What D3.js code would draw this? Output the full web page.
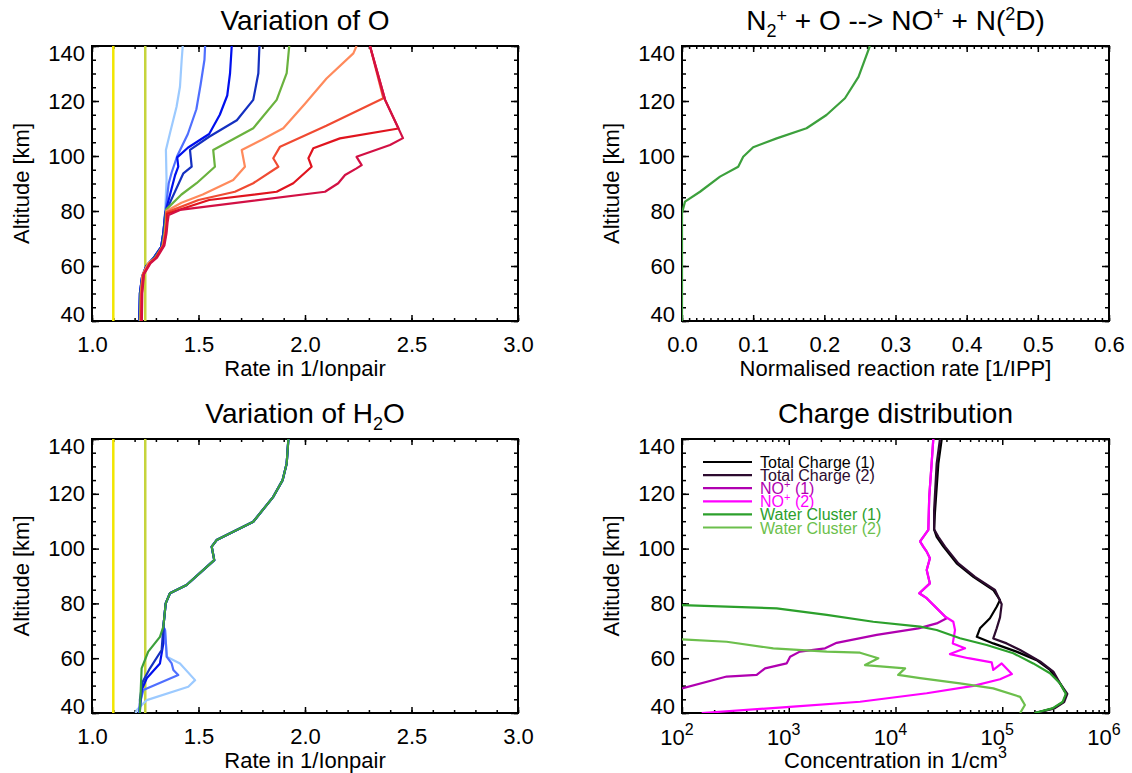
<!DOCTYPE html>
<html>
<head>
<meta charset="utf-8">
<script src="https://cdn.jsdelivr.net/npm/d3@7"></script>
<style>
body { margin: 0; background: #fff; }
svg { font-family: 'Liberation Sans', Arial, sans-serif; }
</style>
</head>
<body>
<script>
// ---- data: [value, altitude km] ----
let altTicks = [40, 60, 80, 100, 120, 140]
let refRates = [1.1, 1.25]
let refColors = ['#f2e600', '#c6d43c']

// Variation of O
let oLightBlue = [[1.222,40],[1.225,50],[1.235,56],[1.255,60],[1.29,63],[1.325,67],[1.335,72],[1.34,76],[1.343,79.2],[1.35,91.3],[1.347,102.2],[1.366,108.3],[1.397,117.9],[1.413,125.2],[1.421,134.9],[1.426,140]]
let oMidBlue = [[1.222,40],[1.225,50],[1.235,56],[1.255,60],[1.29,63],[1.325,67],[1.335,72],[1.34,76],[1.345,80],[1.36,90],[1.374,94],[1.40,100],[1.45,108],[1.49,117],[1.51,126],[1.528,135],[1.531,140]]
let oBlue = [[1.222,40],[1.225,50],[1.235,56],[1.255,60],[1.29,63],[1.325,67],[1.335,72],[1.34,76],[1.343,79],[1.39,93],[1.405,96.1],[1.40,99.5],[1.45,103],[1.55,108],[1.60,115],[1.635,122],[1.648,130],[1.656,140]]
let oNavy = [[1.222,40],[1.225,50],[1.235,56],[1.255,60],[1.29,63],[1.325,67],[1.335,72],[1.34,76],[1.345,79.5],[1.429,93.7],[1.468,96.1],[1.46,102.2],[1.55,107],[1.68,113],[1.757,120.4],[1.781,130.1],[1.786,140]]
let oGreen = [[1.225,40],[1.228,50],[1.237,56],[1.26,60.5],[1.295,63],[1.33,67],[1.34,72],[1.345,76],[1.348,80.5],[1.42,86],[1.491,90.1],[1.577,96.1],[1.569,102.2],[1.66,106],[1.757,110.1],[1.867,120.4],[1.914,130.1],[1.926,140]]
let oSalmon = [[1.228,40],[1.23,50],[1.238,57],[1.265,61],[1.30,63],[1.333,67.5],[1.343,72],[1.348,76],[1.35,80],[1.42,83],[1.52,86],[1.663,91.3],[1.718,96.1],[1.703,102.2],[1.80,106],[1.898,110.1],[2.0,119],[2.101,128.2],[2.227,137.3],[2.242,140]]
let oOrange = [[1.23,40],[1.232,50],[1.24,57],[1.27,61],[1.30,63],[1.335,67.5],[1.345,72],[1.35,76],[1.35,79.5],[1.50,84],[1.671,87],[1.757,90.1],[1.875,96.1],[1.851,99.2],[1.883,103.4],[2.10,111],[2.368,121],[2.305,140]]
let oRed = [[1.232,40],[1.234,50],[1.242,57],[1.272,61],[1.30,63],[1.337,67.5],[1.347,72],[1.352,76],[1.352,79],[1.55,84],[1.867,87],[1.945,90.1],[2.031,96.1],[2.016,99.2],[2.039,102.8],[2.164,106.4],[2.439,110],[2.376,120.4],[2.305,140]]
let oCrimson = [[1.234,40],[1.236,50],[1.244,57],[1.275,61],[1.305,63],[1.34,67.5],[1.35,72],[1.355,76],[1.36,78.5],[1.413,80.4],[2.094,87],[2.156,90.1],[2.188,93.1],[2.242,95.5],[2.266,96.7],[2.242,99.7],[2.399,104],[2.46,106.5],[2.376,120.4],[2.305,140]]
let oCurves = [oLightBlue, oMidBlue, oBlue, oNavy, oGreen, oSalmon, oOrange, oRed, oCrimson]
let oColors = ['#9ccaff', '#4f6fff', '#0010ee', '#1430c0', '#6ab23e', '#ff8a5c', '#f04a32', '#e0141e', '#d21044']

// N2+ + O reaction
let n2Rate = [[0,40],[0,60],[0,79.2],[0.0042,83.4],[0.0253,87],[0.0534,92.5],[0.079,96.1],[0.086,99.7],[0.100,103.2],[0.133,106.4],[0.175,110.1],[0.203,114.9],[0.229,121],[0.248,128.8],[0.264,140]]

// Variation of H2O
let hUpper = [[1.922,140],[1.914,131.1],[1.895,125],[1.851,118.9],[1.757,109.8],[1.585,103.1],[1.562,100.7],[1.574,95.8],[1.444,86.7],[1.366,83.7],[1.346,80],[1.335,71.5]]
let hLightBlue = [[1.343,70.3],[1.351,60.5],[1.413,58.1],[1.484,52],[1.452,49.6],[1.257,44.7],[1.21,41.1],[1.205,40]]
let hMidBlue = [[1.343,70.3],[1.351,60.5],[1.374,58.1],[1.382,55.7],[1.405,53.9],[1.241,48.4],[1.225,43.5],[1.22,40]]
let hBlue = [[1.335,65.4],[1.319,58.1],[1.257,52.7],[1.233,48.4],[1.225,41],[1.225,40]]
let hNavy = [[1.327,63],[1.272,56.3],[1.238,51.4],[1.225,45],[1.225,40]]
let hGreen = [[1.319,67.8],[1.264,62.4],[1.233,56.3],[1.225,41.1],[1.225,40]]
let hCurves = [hLightBlue, hMidBlue, hBlue, hNavy, hGreen]
let hColors = ['#9ccaff', '#4f6fff', '#0010ee', '#1430c0', '#3ca03c']

// Charge distribution [1/cm3, km]
let totalCharge1 = [[27100,140],[25200,131],[23400,113],[23000,107],[24300,104.3],[28100,100.7],[37400,94.6],[53600,89.7],[82400,84.9],[95300,81.2],[88700,78.8],[76700,74.6],[61900,70.9],[57700,67.8],[82400,65.4],[136000,62.4],[210000,59.3],[280000,55.7],[348000,50.8],[398000,47],[372000,44],[302000,41.7],[203000,40]]
let totalCharge2 = [[26100,140],[24300,131],[23000,114],[23000,107],[25200,104.3],[29100,100.7],[38800,94.6],[55600,89.7],[85500,84.9],[98800,79.7],[95300,74.9],[88700,70.9],[82400,67.2],[110000,65.4],[147000,63],[226000,58.8],[301000,55.1],[348000,50.8],[407000,47],[380000,44],[309000,41.7],[204000,40]]
let noPlus1 = [[100,49],[262,53.3],[501,53.9],[600,56.3],[955,58.1],[1030,60.5],[1270,62.4],[2190,63.6],[2810,65.6],[6670,68.5],[16400,70.9],[24300,72.7],[30200,74.6],[29100,75.2],[19600,81.9],[16700,83.7],[21000,87.3],[19600,92.2],[21000,96.5],[19600,98.9],[18200,100.7],[17000,102.6],[20300,106.8],[20700,118.9],[21800,131.1],[22600,140]]
let noPlus2 = [[22600,140],[21800,131.1],[20700,118.9],[20300,106.8],[17000,102.6],[18200,100.7],[19600,98.9],[21000,96.5],[19600,92.2],[21000,87.3],[16700,83.7],[19600,81.9],[29100,75.2],[34800,73.3],[36100,70.3],[34400,65.4],[44800,63.6],[32400,61.5],[48100,60],[79600,58.5],[82400,55.7],[98800,58.1],[123000,54.2],[95300,52.3],[53600,49.9],[19600,47.2],[4650,44.1],[1100,42.3],[153,40]]
let waterCluster1 = [[100,79.4],[771,78.2],[2270,75.8],[6190,73.3],[17000,71.5],[24300,70.3],[40200,67.3],[71400,64.8],[127000,61.8],[195000,58.1],[280000,54.5],[348000,50.8],[394000,47],[367000,44],[295000,41.7],[200000,40]]
let waterCluster2 = [[100,66.9],[262,66],[716,63.6],[2270,62.4],[4650,62],[6900,60],[5180,57.5],[12300,56.3],[10600,53.9],[17000,52.7],[40200,50.8],[82400,49],[147000,45.9],[163000,42.9],[147000,40]]
let chargeCurves = [totalCharge1, totalCharge2, noPlus1, noPlus2, waterCluster1, waterCluster2]
let chargeColors = ['#000000', '#2d0b2f', '#b000b0', '#ff00ff', '#2ca02c', '#6cbf4c']
let chargeNames = ['Total Charge (1)', 'Total Charge (2)', 'NO+ (1)', 'NO+ (2)', 'Water Cluster (1)', 'Water Cluster (2)']

// ---- layout ----
let svg = d3.select('body').append('svg')
            .attr('width', 1132)
            .attr('height', 773)

let panels = [
    {left: 92, right: 518, top: 46, bottom: 321},
    {left: 682, right: 1109, top: 46, bottom: 321},
    {left: 92, right: 518, top: 439, bottom: 713},
    {left: 682, right: 1109, top: 439, bottom: 713}
]

let tickFont = 22
let labelFont = 22
let titleFont = 28

let range = (a, b, s) => d3.range(a, b + s / 2, s).map(v => Math.round(v * 1000) / 1000)

let drawPanel = (i, x, xMajor, xMinor, xFmt) => {
    let p = panels[i]
    let y = d3.scaleLinear().domain([40, 140]).range([p.bottom, p.top])
    let g = svg.append('g')

    g.append('clipPath').attr('id', 'clip' + i)
     .append('rect')
     .attr('x', p.left).attr('y', p.top)
     .attr('width', p.right - p.left).attr('height', p.bottom - p.top)

    let style = (sel) => {
        sel.select('.domain').remove()
        sel.attr('font-family', null).attr('font-size', null)
        sel.selectAll('line').attr('stroke', '#000').attr('stroke-width', 1.5)
        sel.selectAll('text').attr('fill', '#000').attr('font-size', tickFont)
    }

    // bottom
    g.append('g').attr('transform', 'translate(0,' + p.bottom + ')')
     .call(d3.axisBottom(x).tickValues(xMinor).tickSize(-3).tickFormat('')).call(style)
    let bx = g.append('g').attr('transform', 'translate(0,' + p.bottom + ')')
     .call(d3.axisBottom(x).tickValues(xMajor).tickSize(-6).tickPadding(15).tickFormat(xFmt)).call(style)
    // top
    g.append('g').attr('transform', 'translate(0,' + p.top + ')')
     .call(d3.axisTop(x).tickValues(xMinor).tickSize(-3).tickFormat('')).call(style)
    g.append('g').attr('transform', 'translate(0,' + p.top + ')')
     .call(d3.axisTop(x).tickValues(xMajor).tickSize(-6).tickFormat('')).call(style)
    // left
    g.append('g').attr('transform', 'translate(' + p.left + ',0)')
     .call(d3.axisLeft(y).tickValues(range(40, 140, 5)).tickSize(-4).tickFormat('')).call(style)
    g.append('g').attr('transform', 'translate(' + p.left + ',0)')
     .call(d3.axisLeft(y).tickValues(altTicks).tickSize(-7).tickPadding(7).tickFormat(d3.format('d'))).call(style)
     .selectAll('text')
     .attr('transform', (d) => d === 140 ? 'translate(0,7)' : d === 40 ? 'translate(0,-7)' : null)
    // right
    g.append('g').attr('transform', 'translate(' + p.right + ',0)')
     .call(d3.axisRight(y).tickValues(range(40, 140, 5)).tickSize(-4).tickFormat('')).call(style)
    g.append('g').attr('transform', 'translate(' + p.right + ',0)')
     .call(d3.axisRight(y).tickValues(altTicks).tickSize(-7).tickFormat('')).call(style)

    g.append('rect')
     .attr('x', p.left).attr('y', p.top)
     .attr('width', p.right - p.left).attr('height', p.bottom - p.top)
     .attr('fill', 'none').attr('stroke', '#000').attr('stroke-width', 2)

    g.append('text')
     .attr('transform', 'translate(' + (p.left - 63) + ',' + ((p.top + p.bottom) / 2) + ') rotate(-90)')
     .attr('text-anchor', 'middle')
     .attr('font-size', labelFont)
     .text('Altitude [km]')

    return {g: g, y: y, p: p, bx: bx}
}

let plotLines = (panel, x, curves, colors, width) => {
    let line = d3.line().x(d => x(d[0])).y(d => panel.y(d[1]))
    panel.g.append('g').attr('clip-path', 'url(#clip' + panels.indexOf(panel.p) + ')')
         .selectAll('path')
         .data(curves)
         .enter()
         .append('path')
         .attr('d', line)
         .attr('fill', 'none')
         .attr('stroke', (d, k) => colors[k])
         .attr('stroke-width', width)
         .attr('stroke-linejoin', 'round')
}

let refLines = (panel, x) => {
    panel.g.selectAll('line.ref')
         .data(refRates)
         .enter()
         .append('line')
         .attr('class', 'ref')
         .attr('x1', d => x(d)).attr('x2', d => x(d))
         .attr('y1', panel.y(40)).attr('y2', panel.y(140))
         .attr('stroke', (d, k) => refColors[k])
         .attr('stroke-width', 2.5)
}

let title = (panel, parts) => {
    let t = svg.append('text')
               .attr('x', (panel.p.left + panel.p.right) / 2)
               .attr('y', panel.p.top - 16)
               .attr('text-anchor', 'middle')
               .attr('font-size', titleFont)
    parts.forEach(pt => {
        t.append('tspan').attr('dy', pt[1] || 0).attr('font-size', pt[2] || titleFont).text(pt[0])
    })
}

let xLabel = (panel, parts) => {
    let t = svg.append('text')
               .attr('x', (panel.p.left + panel.p.right) / 2)
               .attr('y', panel.p.bottom + 55)
               .attr('text-anchor', 'middle')
               .attr('font-size', labelFont)
    parts.forEach(pt => {
        t.append('tspan').attr('dy', pt[1] || 0).attr('font-size', pt[2] || labelFont).text(pt[0])
    })
}

// panel 1: Variation of O
let xRate1 = d3.scaleLinear().domain([1, 3]).range([panels[0].left, panels[0].right])
let p1 = drawPanel(0, xRate1, range(1, 3, 0.5), range(1, 3, 0.1), d3.format('.1f'))
refLines(p1, xRate1)
plotLines(p1, xRate1, oCurves, oColors, 2.2)
title(p1, [['Variation of O']])
xLabel(p1, [['Rate in 1/Ionpair']])

// panel 2: N2+ + O reaction
let xNorm = d3.scaleLinear().domain([0, 0.6]).range([panels[1].left, panels[1].right])
let p2 = drawPanel(1, xNorm, range(0, 0.6, 0.1), range(0, 0.6, 0.01), d3.format('.1f'))
plotLines(p2, xNorm, [n2Rate], ['#3ca03c'], 2.2)
title(p2, [['N'], ['2', 7, 18], ['+', -15, 18], [' + O --> NO', 8], ['+', -10, 18], [' + N(', 10], ['2', -10, 18], ['D)', 10]])
xLabel(p2, [['Normalised reaction rate [1/IPP]']])

// panel 3: Variation of H2O
let xRate3 = d3.scaleLinear().domain([1, 3]).range([panels[2].left, panels[2].right])
let p3 = drawPanel(2, xRate3, range(1, 3, 0.5), range(1, 3, 0.1), d3.format('.1f'))
refLines(p3, xRate3)
plotLines(p3, xRate3, hCurves.slice(0, 4).map(c => hUpper.concat(c)), hColors.slice(0, 4), 2.2)
plotLines(p3, xRate3, [hUpper.concat(hGreen)], ['#3ca03c'], 2.2)
title(p3, [['Variation of H'], ['2', 7, 18], ['O', -7]])
xLabel(p3, [['Rate in 1/Ionpair']])

// panel 4: Charge distribution
let xConc = d3.scaleLog().domain([1e2, 1e6]).range([panels[3].left, panels[3].right])
let logMinor = []
for (let e = 2; e < 6; e++) {
    for (let k = 2; k < 10; k++) logMinor.push(k * Math.pow(10, e))
}
let decades = [1e2, 1e3, 1e4, 1e5, 1e6]
let p4 = drawPanel(3, xConc, decades, logMinor, () => '')
p4.bx.selectAll('text').remove()
p4.g.selectAll('text.dec')
    .data(decades)
    .enter()
    .append('text')
    .attr('class', 'dec')
    .attr('x', d => xConc(d) - 5)
    .attr('y', panels[3].bottom + 32)
    .attr('text-anchor', 'middle')
    .attr('font-size', tickFont)
    .each(function (d) {
        let t = d3.select(this)
        t.append('tspan').text('10')
        t.append('tspan').attr('dy', -10).attr('font-size', 16).text(Math.round(Math.log10(d)))
    })
plotLines(p4, xConc, chargeCurves, chargeColors, 2.2)
title(p4, [['Charge distribution']])
xLabel(p4, [['Concentration in 1/cm'], ['3', -10, 16]])

// legend
let legend = p4.g.selectAll('g.leg')
    .data(chargeNames)
    .enter()
    .append('g')
    .attr('class', 'leg')
    .attr('transform', (d, k) => 'translate(703,' + (462 + k * 13.1) + ')')
legend.append('line')
      .attr('x1', 0).attr('x2', 49)
      .attr('stroke', (d, k) => chargeColors[k])
      .attr('stroke-width', 2.2)
legend.append('text')
      .attr('x', 57)
      .attr('y', 6)
      .attr('font-size', 16)
      .attr('fill', (d, k) => chargeColors[k])
      .each(function (d) {
          let t = d3.select(this)
          if (d.startsWith('NO+')) {
              t.append('tspan').text('NO')
              t.append('tspan').attr('dy', -6).attr('font-size', 11).text('+')
              t.append('tspan').attr('dy', 6).text(d.slice(3))
          } else {
              t.text(d)
          }
      })
</script>
</body>
</html>
